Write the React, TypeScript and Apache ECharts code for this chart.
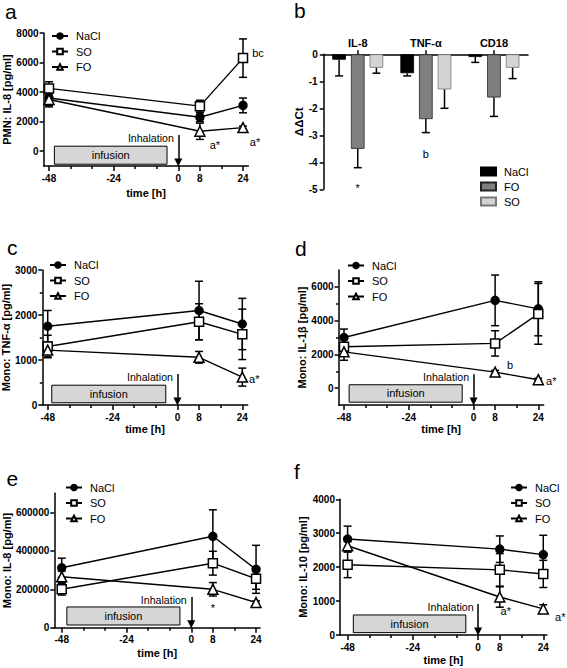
import React, { useEffect, useRef } from "react";
import * as echarts from "echarts";

const FONT = "'Liberation Sans', Arial, Helvetica, sans-serif";

// ---------- shared ----------
const times = [-48, 8, 24];
const xMajorTicks = [-48, -24, 0, 8, 24];
const xMinorTicks = [-40, -32, -16, -8, 16];
const groups = ["NaCl", "SO", "FO"];

// ---------- panel a: PMN IL-8 ----------
const aNaCl = [3600, 2300, 3100];
const aNaClErr = [600, 300, 500];
const aSO = [4250, 3050, 6300];
const aSOErr = [450, 400, 1300];
const aFO = [3500, 1350, 1600];
const aFOErr = [400, 550, 100];
const aYTicks = [0, 2000, 4000, 6000, 8000];

// ---------- panel b: ΔΔCt ----------
const bCategories = ["IL-8", "TNF-α", "CD18"];
const bGroups = ["NaCl", "FO", "SO"];
const bNaCl = [-0.2, -0.7, -0.1];
const bNaClErr = [0.6, 0.1, 0.2];
const bFO = [-3.5, -2.4, -1.6];
const bFOErr = [0.7, 0.5, 0.7];
const bSO = [-0.5, -1.3, -0.5];
const bSOErr = [0.2, 0.7, 0.4];

// ---------- panel c: Mono TNF-α ----------
const cNaCl = [1750, 2100, 1800];
const cNaClErr = [350, 650, 570];
const cSO = [1300, 1850, 1570];
const cSOErr = [250, 400, 560];
const cFO = [1220, 1060, 620];
const cFOErr = [150, 130, 200];
const cYTicks = [0, 1000, 2000, 3000];
const cYMinor = [500, 1500, 2500];

// ---------- panel d: Mono IL-1β ----------
const dNaCl = [3000, 5200, 4700];
const dNaClErr = [500, 1500, 1600];
const dSO = [2450, 2650, 4400];
const dSOErr = [450, 750, 1800];
const dFO = [2150, 950, 500];
const dFOErr = [500, 100, 80];
const dYTicks = [0, 2000, 4000, 6000];
const dYMinor = [1000, 3000, 5000];

// ---------- panel e: Mono IL-8 ----------
const eNaCl = [312000, 476000, 304000];
const eNaClErr = [50000, 138000, 125000];
const eSO = [200000, 336000, 255000];
const eSOErr = [30000, 62000, 55000];
const eFO = [265000, 200000, 131000];
const eFOErr = [30000, 35000, 8000];
const eYTicks = [0, 200000, 400000, 600000];

// ---------- panel f: Mono IL-10 ----------
const fNaCl = [2830, 2530, 2370];
const fNaClErr = [380, 390, 570];
const fSO = [2070, 1920, 1800];
const fSOErr = [380, 480, 400];
const fFO = [2630, 1120, 770];
const fFOErr = [120, 300, 120];
const fYTicks = [0, 1000, 2000, 3000, 4000];

const BAR_W = 0.2;
const BAR_GAP = 0.37;

type Note = { x: number; y: number; text: string; offset: [number, number] };
type Panel = {
  key: string;
  grid: { left: number; top: number; width: number; height: number };
  xMin: number;
  xMax: number;
  yMin: number;
  yMax: number;
  yTicks: number[];
  yMinor: number[];
  yName: string;
  yNameGap: number;
  xNameGap: number;
  values: number[][];
  errs: number[][];
  legend: { left: number; top: number };
  box: [number, number, number, number];
  arrowTop: number;
  notes: Note[];
};

const marks = [
  { symbol: "circle", size: 8, fill: "#000" },
  { symbol: "rect", size: 9, fill: "#fff" },
  { symbol: "triangle", size: 10, fill: "#fff" },
];

const errRender = (_params: any, api: any) => {
  const x = api.value(0);
  const y = api.value(1);
  const e = api.value(2);
  const t = api.coord([x, y + e]);
  const b = api.coord([x, y - e]);
  const w = 4;
  const style = { stroke: "#000", lineWidth: 1.5, fill: "none" };
  return {
    type: "group",
    children: [
      { type: "line", shape: { x1: t[0], y1: t[1], x2: b[0], y2: b[1] }, style },
      { type: "line", shape: { x1: t[0] - w, y1: t[1], x2: t[0] + w, y2: t[1] }, style },
      { type: "line", shape: { x1: b[0] - w, y1: b[1], x2: b[0] + w, y2: b[1] }, style },
    ],
  };
};

const barErrRender = (_params: any, api: any) => {
  const ci = api.value(0);
  const v = api.value(1);
  const e = api.value(2);
  const k = api.value(3);
  const band = api.size([1, 0])[0];
  const dx = (k - 1) * band * BAR_W * (1 + BAR_GAP);
  const p = api.coord([ci, v]);
  const q = api.coord([ci, v - e]);
  const w = 4;
  const style = { stroke: "#000", lineWidth: 1.5, fill: "none" };
  return {
    type: "group",
    children: [
      { type: "line", shape: { x1: p[0] + dx, y1: p[1], x2: q[0] + dx, y2: q[1] }, style },
      { type: "line", shape: { x1: q[0] + dx - w, y1: q[1], x2: q[0] + dx + w, y2: q[1] }, style },
    ],
  };
};

const axisLineStyle = { color: "#000", width: 1.5 };
const tickLabel = {
  color: "#000",
  fontSize: 10,
  fontWeight: "bold" as const,
  fontFamily: FONT,
  formatter: (v: number) => String(v),
};
const noteLabel = { color: "#000", fontSize: 11, fontFamily: FONT };

const panels: Panel[] = [
  {
    key: "a",
    grid: { left: 43.6, top: 33, width: 204.8, height: 133 },
    xMin: -50, xMax: 26, yMin: -1000, yMax: 8000,
    yTicks: aYTicks, yMinor: [],
    yName: "PMN: IL-8 [pg/ml]", yNameGap: 30, xNameGap: 21,
    values: [aNaCl, aSO, aFO], errs: [aNaClErr, aSOErr, aFOErr],
    legend: { left: 51, top: 30.5 },
    box: [-46, -4.2, -880, 340],
    arrowTop: 1100,
    notes: [
      { x: times[2], y: aSO[2], text: "bc", offset: [15, -5] },
      { x: times[1], y: aFO[1], text: "a*", offset: [15, 14] },
      { x: times[2], y: aFO[2], text: "a*", offset: [12, 14] },
    ],
  },
  {
    key: "c",
    grid: { left: 42.3, top: 270, width: 205.4, height: 135 },
    xMin: -50, xMax: 26, yMin: 0, yMax: 3000,
    yTicks: cYTicks, yMinor: cYMinor,
    yName: "Mono: TNF-α [pg/ml]", yNameGap: 28.5, xNameGap: 18.5,
    values: [cNaCl, cSO, cFO], errs: [cNaClErr, cSOErr, cFOErr],
    legend: { left: 49, top: 259.5 },
    box: [-46.5, -4.3, 50, 440],
    arrowTop: 690,
    notes: [{ x: times[2], y: cFO[2], text: "a*", offset: [12, 2] }],
  },
  {
    key: "d",
    grid: { left: 338.6, top: 270, width: 205.1, height: 135 },
    xMin: -50, xMax: 26, yMin: -1000, yMax: 7000,
    yTicks: dYTicks, yMinor: dYMinor,
    yName: "Mono: IL-1β [pg/ml]", yNameGap: 28.5, xNameGap: 18.5,
    values: [dNaCl, dSO, dFO], errs: [dNaClErr, dSOErr, dFOErr],
    legend: { left: 347, top: 260 },
    box: [-46.1, -4.2, -834, 200],
    arrowTop: 816,
    notes: [
      { x: times[1], y: dFO[1], text: "b", offset: [15, -7] },
      { x: times[2], y: dFO[2], text: "a*", offset: [13, 1] },
    ],
  },
  {
    key: "e",
    grid: { left: 54.3, top: 493.3, width: 205.8, height: 134.4 },
    xMin: -50.75, xMax: 25.5, yMin: 0, yMax: 700000,
    yTicks: eYTicks, yMinor: [],
    yName: "Mono: IL-8 [pg/ml]", yNameGap: 40, xNameGap: 20,
    values: [eNaCl, eSO, eFO], errs: [eNaClErr, eSOErr, eFOErr],
    legend: { left: 65, top: 482 },
    box: [-46.1, -4.2, 14000, 108000],
    arrowTop: 160000,
    notes: [{ x: times[1], y: eFO[1], text: "*", offset: [0, 19] }],
  },
  {
    key: "f",
    grid: { left: 340, top: 499.3, width: 206.8, height: 135.7 },
    xMin: -50.8, xMax: 25.3, yMin: 0, yMax: 4000,
    yTicks: fYTicks, yMinor: [],
    yName: "Mono: IL-10 [pg/ml]", yNameGap: 29.5, xNameGap: 19.5,
    values: [fNaCl, fSO, fFO], errs: [fNaClErr, fSOErr, fFOErr],
    legend: { left: 510, top: 482 },
    box: [-45.9, -4.5, 70, 590],
    arrowTop: 915,
    notes: [
      { x: times[1], y: fFO[1], text: "a*", offset: [6, 14] },
      { x: times[2], y: fFO[2], text: "a*", offset: [17, 8] },
    ],
  },
];

function buildOption() {
  const grid: any[] = [];
  const xAxis: any[] = [];
  const yAxis: any[] = [];
  const series: any[] = [];
  const legend: any[] = [];

  panels.forEach((p) => {
    const gi = grid.length;
    grid.push({ ...p.grid, containLabel: false, outerBoundsMode: "none" });
    const xi = xAxis.length;
    xAxis.push({
      type: "value", gridIndex: gi, position: "bottom", min: p.xMin, max: p.xMax,
      axisLine: { show: true, onZero: false, lineStyle: axisLineStyle },
      axisTick: { show: true, length: 5, customValues: xMajorTicks, lineStyle: axisLineStyle },
      axisLabel: { ...tickLabel, margin: 7, customValues: xMajorTicks },
      splitLine: { show: false },
      name: "time [h]", nameLocation: "middle", nameGap: p.xNameGap,
      nameTextStyle: { color: "#000", fontSize: 11, fontWeight: "bold", fontFamily: FONT },
    });
    xAxis.push({
      type: "value", gridIndex: gi, position: "bottom", offset: 0, min: p.xMin, max: p.xMax,
      axisLine: { show: false, onZero: false },
      axisTick: { show: true, length: 3, customValues: xMinorTicks, lineStyle: axisLineStyle },
      axisLabel: { show: false },
      splitLine: { show: false },
    });
    const yi = yAxis.length;
    yAxis.push({
      type: "value", gridIndex: gi, position: "left", min: p.yMin, max: p.yMax,
      axisLine: { show: true, onZero: false, lineStyle: axisLineStyle },
      axisTick: { show: true, length: 4, customValues: p.yTicks, lineStyle: axisLineStyle },
      axisLabel: { ...tickLabel, margin: 5, customValues: p.yTicks },
      splitLine: { show: false },
      name: p.yName, nameLocation: "middle", nameGap: p.yNameGap,
      nameTextStyle: { color: "#000", fontSize: 11, fontWeight: "bold", fontFamily: FONT },
    });
    if (p.yMinor.length) {
      yAxis.push({
        type: "value", gridIndex: gi, position: "left", offset: 0, min: p.yMin, max: p.yMax,
        axisLine: { show: false, onZero: false },
        axisTick: { show: true, length: 2.5, customValues: p.yMinor, lineStyle: axisLineStyle },
        axisLabel: { show: false },
        splitLine: { show: false },
      });
    }

    groups.forEach((g, k) => {
      series.push({
        type: "custom", name: p.key + g + "Err", xAxisIndex: xi, yAxisIndex: yi,
        renderItem: errRender, encode: { x: 0, y: 1 }, z: 2, silent: true,
        data: times.map((t, i) => [t, p.values[k][i], p.errs[k][i]]),
      });
      series.push({
        type: "line", name: g, xAxisIndex: xi, yAxisIndex: yi, z: 3,
        data: times.map((t, i) => [t, p.values[k][i]]),
        symbol: marks[k].symbol, symbolSize: marks[k].size, showSymbol: true,
        itemStyle: { color: marks[k].fill, borderColor: "#000", borderWidth: 1.5 },
        lineStyle: { color: "#000", width: 1.4 },
        emphasis: { disabled: true },
      });
    });

    const span = p.yMax - p.yMin;
    const arrowEnd = p.yMin + (span * 3.5) / p.grid.height;
    series.push({
      type: "line", name: p.key + "Annot", xAxisIndex: xi, yAxisIndex: yi, data: [], z: 4, silent: true,
      markArea: {
        silent: true,
        itemStyle: { color: "#d6d6d6", borderColor: "#000", borderWidth: 1 },
        label: { show: true, position: "inside", color: "#000", fontSize: 11, fontFamily: FONT },
        data: [[{ name: "infusion", coord: [p.box[0], p.box[3]] }, { coord: [p.box[1], p.box[2]] }]],
      },
      markLine: {
        silent: true,
        symbol: ["none", "triangle"],
        symbolSize: 8,
        label: { show: false },
        lineStyle: { color: "#000", width: 1.5, type: "solid" },
        itemStyle: { color: "#000" },
        data: [[{ coord: [0, p.arrowTop] }, { coord: [0, arrowEnd] }]],
      },
      markPoint: {
        silent: true,
        symbol: "circle",
        symbolSize: 1,
        itemStyle: { color: "rgba(0,0,0,0)" },
        label: { show: true, ...noteLabel },
        data: [
          {
            coord: [0, p.arrowTop], value: 0,
            label: { ...noteLabel, formatter: "Inhalation", position: "left", distance: 4, offset: [0, 3], fontSize: 10.6 },
          },
          ...p.notes.map((n) => ({
            coord: [n.x, n.y], value: 0,
            label: { ...noteLabel, formatter: n.text, position: "inside", offset: n.offset },
          })),
        ],
      },
    });

    legend.push({
      orient: "vertical", left: p.legend.left, top: p.legend.top, padding: 0,
      itemWidth: 16, itemHeight: 7, itemGap: 4.5, selectedMode: false,
      data: groups,
      textStyle: { color: "#000", fontSize: 11, fontFamily: FONT, padding: [0, 0, 0, 3] },
    });
  });

  // ---------- panel b ----------
  const gb = grid.length;
  grid.push({ left: 323.7, top: 54.3, width: 204.3, height: 135, containLabel: false, outerBoundsMode: "none" });
  const xb = xAxis.length;
  xAxis.push({
    type: "category", gridIndex: gb, position: "top", data: bCategories,
    axisLine: { show: true, onZero: false, lineStyle: axisLineStyle },
    axisTick: { show: true, alignWithLabel: true, length: 4, lineStyle: axisLineStyle },
    axisLabel: { color: "#000", fontSize: 11, fontWeight: "bold", fontFamily: FONT, margin: 6 },
    splitLine: { show: false },
  });
  const yb = yAxis.length;
  yAxis.push({
    type: "value", gridIndex: gb, min: -5, max: 0, interval: 1,
    axisLine: { show: true, onZero: false, lineStyle: axisLineStyle },
    axisTick: { show: true, length: 4, lineStyle: axisLineStyle },
    axisLabel: { ...tickLabel, margin: 6 },
    splitLine: { show: false },
    name: "ΔΔCt", nameLocation: "middle", nameGap: 15,
    nameTextStyle: { color: "#000", fontSize: 11.5, fontWeight: "bold", fontFamily: FONT },
  });
  const bVals = [bNaCl, bFO, bSO];
  const bErrs = [bNaClErr, bFOErr, bSOErr];
  const bStyles = [
    { color: "#000", borderColor: "#000", borderWidth: 0.8 },
    { color: "#7f7f7f", borderColor: "#222", borderWidth: 0.8 },
    { color: "#d4d4d4", borderColor: "#777", borderWidth: 0.8 },
  ];
  bGroups.forEach((g, k) => {
    series.push({
      type: "bar", name: g + "_b", xAxisIndex: xb, yAxisIndex: yb,
      data: bVals[k], barWidth: `${BAR_W * 100}%`, barGap: `${BAR_GAP * 100}%`,
      itemStyle: bStyles[k], z: 2, emphasis: { disabled: true },
      ...(k === 1
        ? {
            markPoint: {
              silent: true, symbol: "circle", symbolSize: 1,
              itemStyle: { color: "rgba(0,0,0,0)" },
              label: { show: true, ...noteLabel, position: "inside" },
              data: [
                { coord: [0, bFO[0] - bFOErr[0]], value: 0, label: { ...noteLabel, formatter: "*", offset: [0, 20] } },
                { coord: [1, bFO[1] - bFOErr[1]], value: 0, label: { ...noteLabel, formatter: "b", offset: [0, 21] } },
              ],
            },
          }
        : {}),
    });
  });
  bGroups.forEach((g, k) => {
    series.push({
      type: "custom", name: g + "_bErr", xAxisIndex: xb, yAxisIndex: yb,
      renderItem: barErrRender, z: 3, silent: true, encode: { x: 0, y: 1 },
      data: bCategories.map((_c, i) => [i, bVals[k][i], bErrs[k][i], k]),
    });
  });
  legend.push({
    orient: "vertical", left: 480, top: 166, padding: 0,
    itemWidth: 15, itemHeight: 8, itemGap: 4, icon: "rect", selectedMode: false,
    data: bGroups.map((g) => g + "_b"),
    formatter: (n: string) => n.replace("_b", ""),
    textStyle: { color: "#000", fontSize: 11, fontFamily: FONT, padding: [0, 0, 0, 3] },
  });

  const letter = (t: string, x: number, y: number) => ({
    type: "text", x, y, silent: true,
    style: { text: t, fontSize: 21, fontFamily: FONT, fill: "#000", align: "left", verticalAlign: "bottom" },
  });

  return {
    animation: false,
    textStyle: { fontFamily: FONT },
    grid, xAxis, yAxis, series, legend,
    graphic: [
      letter("a", 5, 22),
      letter("b", 294, 21),
      letter("c", 7, 257.5),
      letter("d", 295, 258.5),
      letter("e", 6.5, 488.5),
      letter("f", 294, 481.5),
    ],
  };
}

export default function App() {
  const ref = useRef<HTMLDivElement>(null);
  useEffect(() => {
    if (!ref.current) return;
    const chart = echarts.init(ref.current, undefined, { renderer: "svg" });
    chart.setOption(buildOption() as any);
    return () => chart.dispose();
  }, []);
  return (
    <div
      ref={ref}
      style={{ position: "absolute", left: 0, top: 0, width: 567, height: 668, background: "#fff" }}
    />
  );
}
